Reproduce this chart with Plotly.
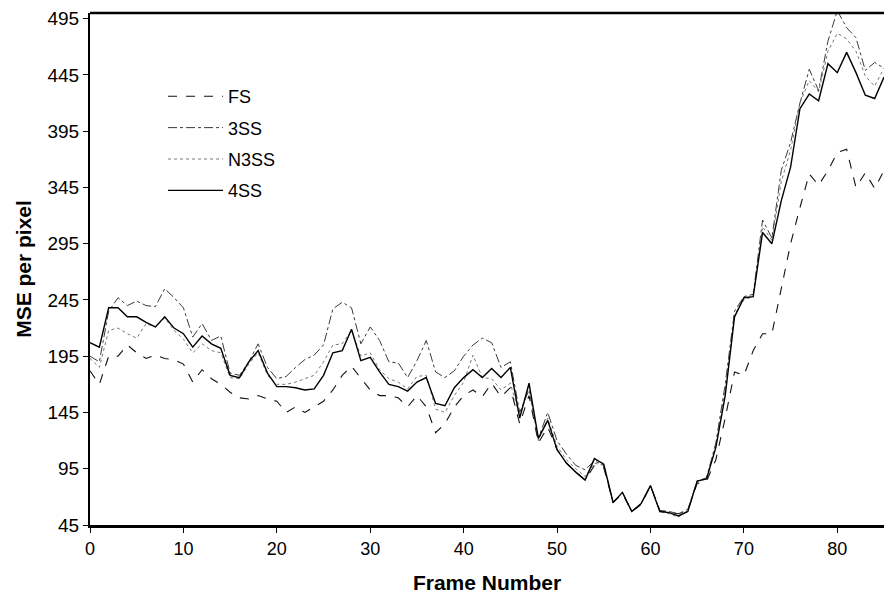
import plotly.graph_objects as go

frames = list(range(86))

fs = [182, 170, 195, 195, 205, 198, 193, 196, 193, 192, 188, 172, 183, 175, 170, 163, 158, 157, 160, 157,
      155, 145, 150, 145, 150, 155, 165, 178, 186, 176, 165, 160, 160, 158, 150, 160, 150, 127, 135, 150,
      160, 165, 159, 171, 159, 167, 135, 160, 118, 132, 112, 100, 92, 85, 98, 96, 65, 73, 57, 63,
      80, 58, 56, 55, 58, 82, 84, 103, 140, 181, 178, 200, 215, 215, 256, 295, 327, 357, 347, 360,
      376, 379, 345, 358, 344, 360]

ss3 = [195, 190, 235, 247, 240, 244, 240, 239, 255, 247, 238, 212, 224, 209, 213, 180, 178, 190, 206, 185,
       175, 177, 185, 192, 196, 205, 237, 243, 238, 206, 221, 209, 190, 189, 176, 191, 209, 181, 176, 182,
       195, 205, 211, 207, 185, 190, 145, 165, 122, 145, 120, 108, 98, 94, 102, 98, 65, 74, 57, 64,
       80, 58, 57, 55, 59, 84, 87, 118, 170, 235, 248, 250, 316, 300, 360, 385, 420, 450, 431, 475,
       502, 487, 478, 449, 456, 451]

n3ss = [193, 185, 218, 220, 215, 211, 224, 221, 229, 218, 210, 198, 206, 200, 198, 176, 175, 188, 198, 178,
        170, 170, 172, 175, 178, 190, 205, 206, 218, 195, 198, 183, 175, 172, 166, 177, 178, 148, 145, 160,
        172, 196, 176, 175, 165, 171, 142, 168, 120, 140, 115, 103, 95, 88, 100, 98, 65, 74, 57, 64,
        80, 57, 55, 52, 58, 84, 86, 116, 165, 232, 245, 248, 310, 298, 350, 378, 420, 440, 430, 466,
        482, 477, 466, 444, 435, 451]

ss4 = [207, 203, 238, 238, 230, 230, 225, 221, 230, 220, 215, 203, 213, 206, 202, 178, 176, 190, 200, 180,
       168, 168, 167, 165, 166, 178, 198, 200, 219, 191, 194, 181, 170, 168, 164, 172, 176, 153, 151, 167,
       176, 183, 176, 184, 176, 185, 140, 171, 122, 138, 112, 100, 92, 85, 104, 99, 65, 74, 57, 64,
       80, 57, 56, 53, 57, 84, 86, 114, 160, 230, 247, 248, 305, 295, 333, 363, 415, 428, 422, 455,
       447, 465, 447, 427, 424, 443]

y_ticks = [45, 95, 145, 195, 245, 295, 345, 395, 445, 495]
x_ticks = [0, 10, 20, 30, 40, 50, 60, 70, 80]

series = [
    ("FS", fs, dict(color="#111111", width=1.1, dash="dash")),
    ("3SS", ss3, dict(color="#3a3a3a", width=1.0, dash="dashdot")),
    ("N3SS", n3ss, dict(color="#777777", width=1.0, dash="dot")),
    ("4SS", ss4, dict(color="#000000", width=1.4, dash="solid")),
]

fig = go.Figure()
for i, (name, vals, line) in enumerate(series):
    fig.add_trace(go.Scatter(x=frames, y=vals, mode="lines", name=name, line=line,
                             legendgroup=f"g{i}"))

font_family = "Liberation Sans, Arial, sans-serif"

fig.update_layout(
    width=884, height=599,
    margin=dict(l=90, r=0, t=13, b=74),
    paper_bgcolor="white", plot_bgcolor="white",
    font=dict(family=font_family, size=18, color="black"),
    showlegend=True,
    legend=dict(x=0.092, y=0.873, xanchor="left", yanchor="top",
                bgcolor="rgba(0,0,0,0)", borderwidth=0,
                font=dict(size=18, color="black"),
                itemwidth=55, tracegroupgap=5, traceorder="grouped"),
    xaxis=dict(range=[0, 85], tickvals=x_ticks, ticktext=[str(v) for v in x_ticks],
               showgrid=False, zeroline=False, showline=True, linecolor="black", linewidth=3,
               ticks="outside", ticklen=5, tickwidth=1, tickcolor="black",
               tickfont=dict(size=18),
               title=dict(text="<b>Frame Number</b>", font=dict(size=21), standoff=18)),
    yaxis=dict(range=[45, 500], tickvals=y_ticks, ticktext=[str(v) for v in y_ticks],
               showgrid=False, zeroline=False, showline=True, linecolor="black", linewidth=2,
               mirror=False,
               ticks="outside", ticklen=5, tickwidth=1, tickcolor="black",
               tickfont=dict(size=19),
               title=dict(text="<b>MSE per pixel</b>", font=dict(size=21), standoff=10)),
    shapes=[dict(type="line", xref="paper", yref="paper", x0=0, x1=1, y0=1, y1=1,
                 line=dict(color="black", width=2.5))],
)

fig.write_html("out.html")
